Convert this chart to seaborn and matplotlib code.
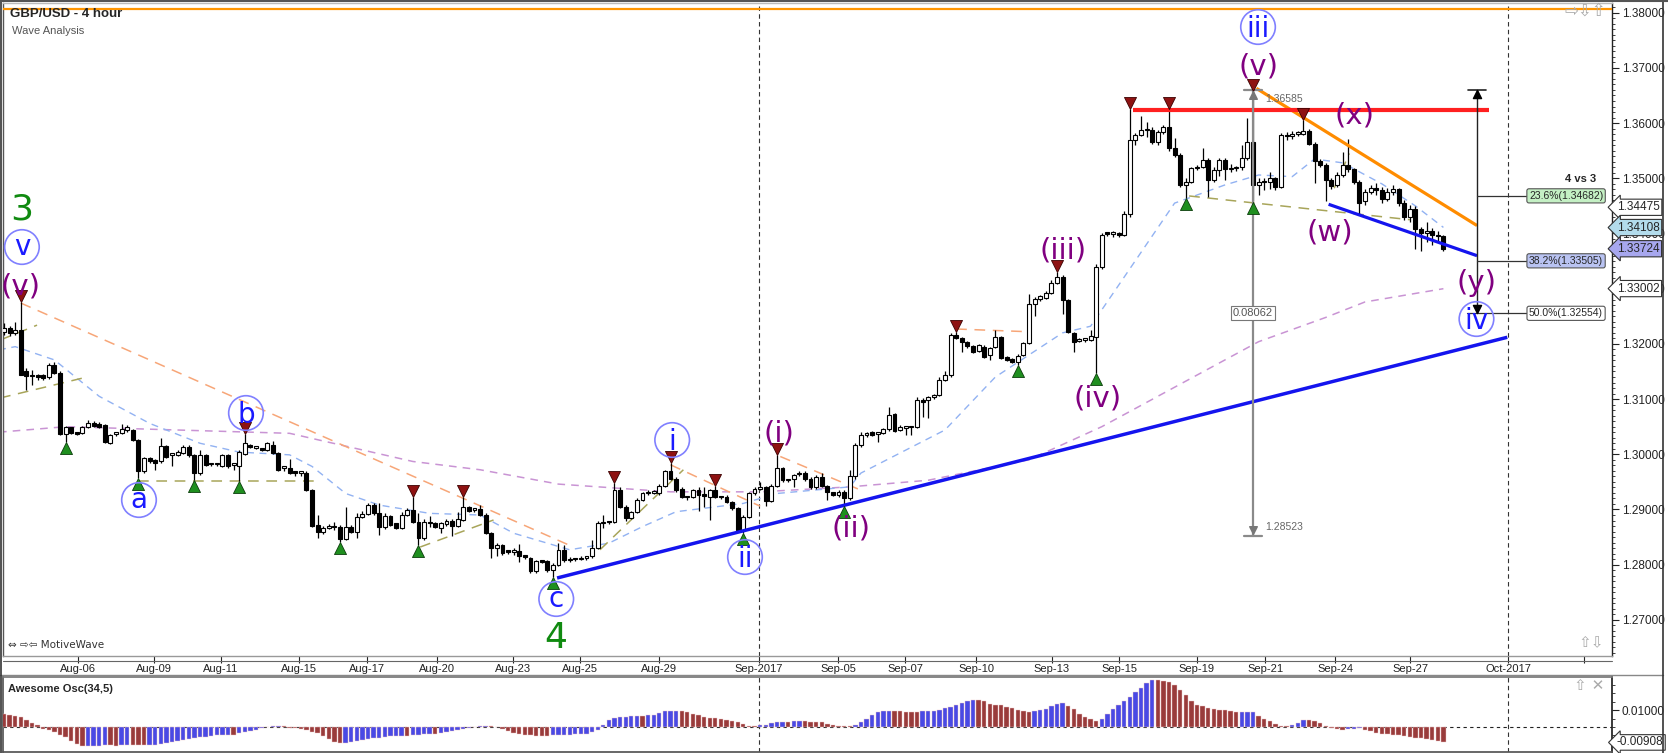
import numpy as np
import pandas as pd
import matplotlib
matplotlib.use("Agg")
import matplotlib.pyplot as plt
import seaborn as sns
from matplotlib.lines import Line2D
from matplotlib.ticker import MultipleLocator

# GBP/USD 4-hour candles, prices in pips (1e-4)
opens = [13222, 13228, 13219, 13226, 13150, 13142, 13141, 13143, 13140, 13162,
         13147, 13037, 13049, 13038, 13038, 13050, 13057, 13055, 13053, 13021,
         13037, 13038, 13044, 13044, 13026, 12969, 12993, 12990, 12987, 13015,
         12999, 12999, 13003, 13014, 12999, 12966, 12999, 12982, 12982, 12979,
         12998, 12981, 12978, 13000, 13017, 13012, 13011, 13008, 13017, 13002,
         12975, 12976, 12968, 12966, 12966, 12935, 12872, 12860, 12866, 12870,
         12868, 12847, 12869, 12860, 12887, 12892, 12908, 12893, 12869, 12888,
         12875, 12866, 12890, 12899, 12878, 12848, 12878, 12875, 12867, 12873,
         12880, 12870, 12881, 12904, 12899, 12900, 12890, 12857, 12830, 12835,
         12824, 12823, 12824, 12815, 12812, 12788, 12806, 12806, 12790, 12800,
         12827, 12808, 12811, 12810, 12812, 12815, 12830, 12875, 12878, 12877,
         12935, 12905, 12884, 12896, 12917, 12929, 12930, 12929, 12943, 12969,
         12956, 12938, 12923, 12922, 12935, 12926, 12923, 12935, 12923, 12923,
         12914, 12902, 12863, 12887, 12929, 12937, 12940, 12916, 12943, 12975,
         12953, 12956, 12964, 12967, 12955, 12941, 12959, 12943, 12932, 12926,
         12932, 12921, 12960, 13017, 13035, 13041, 13037, 13038, 13045, 13073,
         13044, 13048, 13049, 13049, 13098, 13099, 13103, 13107, 13135, 13143,
         13216, 13211, 13204, 13196, 13187, 13195, 13180, 13194, 13212, 13176,
         13172, 13168, 13180, 13201, 13273, 13281, 13284, 13292, 13311, 13322,
         13279, 13220, 13206, 13207, 13207, 13213, 13340, 13400, 13399, 13400,
         13397, 13436, 13569, 13578, 13587, 13588, 13566, 13584, 13593, 13554,
         13542, 13488, 13494, 13518, 13521, 13533, 13497, 13515, 13533, 13516,
         13518, 13520, 13536, 13566, 13488, 13494, 13494, 13500, 13485, 13578,
         13576, 13581, 13581, 13586, 13563, 13532, 13524, 13497, 13488, 13506,
         13524, 13516, 13494, 13458, 13476, 13482, 13478, 13462, 13475, 13480,
         13455, 13430, 13445, 13408, 13400, 13405, 13398, 13395]
highs = [13237, 13233, 13240, 13275, 13156, 13153, 13146, 13146, 13165, 13167,
         13150, 13052, 13050, 13040, 13052, 13062, 13060, 13058, 13055, 13037,
         13040, 13055, 13053, 13046, 13028, 12995, 12995, 12992, 13029, 13017,
         13001, 13008, 13016, 13016, 13001, 13008, 13001, 12985, 12985, 13000,
         13000, 12984, 13008, 13037, 13018, 13014, 13012, 13023, 13024, 13004,
         12978, 12991, 12970, 12970, 12969, 12937, 12890, 12870, 12873, 12878,
         12872, 12905, 12872, 12894, 12897, 12912, 12911, 12911, 12893, 12890,
         12876, 12895, 12902, 12923, 12893, 12882, 12888, 12877, 12878, 12883,
         12883, 12895, 12922, 12907, 12903, 12908, 12893, 12860, 12840, 12838,
         12826, 12830, 12837, 12817, 12814, 12808, 12808, 12808, 12803, 12839,
         12836, 12814, 12813, 12815, 12816, 12845, 12880, 12890, 12880, 12948,
         12940, 12908, 12898, 12920, 12932, 12935, 12936, 12946, 12972, 12985,
         12958, 12940, 12925, 12937, 12940, 12940, 12937, 12942, 12925, 12926,
         12916, 12904, 12890, 12932, 12940, 12950, 12942, 12946, 12998, 12977,
         12956, 12965, 12970, 12969, 12958, 12962, 12966, 12945, 12932, 12935,
         12936, 12972, 13020, 13040, 13040, 13043, 13041, 13048, 13086, 13075,
         13053, 13052, 13052, 13103, 13102, 13106, 13110, 13140, 13150, 13219,
         13222, 13213, 13206, 13198, 13200, 13198, 13195, 13225, 13214, 13178,
         13174, 13182, 13203, 13290, 13285, 13289, 13296, 13315, 13331, 13324,
         13281, 13222, 13210, 13210, 13225, 13345, 13400, 13403, 13404, 13403,
         13440, 13625, 13582, 13612, 13602, 13593, 13587, 13596, 13625, 13573,
         13545, 13500, 13520, 13524, 13554, 13536, 13520, 13536, 13536, 13525,
         13523, 13560, 13609, 13658, 13500, 13500, 13512, 13503, 13582, 13584,
         13586, 13586, 13605, 13590, 13566, 13535, 13527, 13500, 13512, 13548,
         13572, 13518, 13497, 13480, 13487, 13492, 13485, 13482, 13488, 13483,
         13460, 13452, 13450, 13412, 13420, 13410, 13404, 13398]
lows = [13216, 13215, 13216, 13143, 13117, 13126, 13135, 13134, 13136, 13145,
        13035, 13023, 13036, 13035, 13036, 13048, 13049, 13048, 13020, 13019,
        13034, 13036, 13041, 13024, 12957, 12966, 12985, 12972, 12985, 12993,
        12978, 12997, 13001, 12996, 12954, 12963, 12979, 12979, 12979, 12977,
        12976, 12972, 12952, 12998, 13012, 13010, 13006, 13006, 13000, 12970,
        12970, 12965, 12961, 12960, 12933, 12868, 12848, 12855, 12864, 12862,
        12841, 12845, 12858, 12848, 12885, 12890, 12890, 12854, 12865, 12870,
        12864, 12864, 12888, 12876, 12835, 12845, 12869, 12866, 12858, 12870,
        12852, 12868, 12879, 12895, 12896, 12888, 12855, 12813, 12815, 12818,
        12820, 12818, 12805, 12810, 12785, 12785, 12803, 12787, 12778, 12798,
        12804, 12805, 12806, 12808, 12809, 12812, 12828, 12866, 12874, 12875,
        12902, 12880, 12882, 12893, 12915, 12927, 12928, 12926, 12941, 12954,
        12932, 12920, 12918, 12920, 12898, 12905, 12881, 12920, 12919, 12911,
        12899, 12860, 12858, 12885, 12926, 12935, 12906, 12914, 12940, 12950,
        12950, 12941, 12961, 12952, 12938, 12938, 12940, 12917, 12924, 12923,
        12906, 12918, 12956, 13014, 13032, 13033, 13023, 13036, 13043, 13041,
        13042, 13035, 13035, 13047, 13068, 13065, 13100, 13105, 13132, 13140,
        13208, 13186, 13193, 13184, 13185, 13175, 13170, 13192, 13172, 13169,
        13166, 13162, 13178, 13199, 13250, 13278, 13282, 13290, 13308, 13255,
        13220, 13186, 13204, 13203, 13205, 13147, 13335, 13395, 13393, 13394,
        13395, 13430, 13560, 13576, 13575, 13563, 13560, 13580, 13550, 13538,
        13485, 13465, 13491, 13515, 13518, 13467, 13494, 13505, 13497, 13512,
        13514, 13515, 13533, 13458, 13470, 13478, 13480, 13478, 13483, 13570,
        13572, 13577, 13578, 13560, 13491, 13520, 13458, 13480, 13485, 13503,
        13512, 13490, 13436, 13452, 13472, 13470, 13455, 13458, 13470, 13450,
        13425, 13420, 13372, 13368, 13385, 13380, 13385, 13368]
closes = [13228, 13219, 13226, 13144, 13142, 13141, 13140, 13138, 13162, 13147,
          13037, 13049, 13038, 13037, 13050, 13057, 13051, 13050, 13023, 13035,
          13037, 13045, 13050, 13026, 12969, 12993, 12987, 12985, 13015, 12996,
          12999, 13005, 13014, 12999, 12966, 12999, 12981, 12982, 12982, 12998,
          12978, 12981, 13005, 13020, 13014, 13012, 13008, 13020, 13002, 12972,
          12976, 12967, 12966, 12967, 12935, 12870, 12860, 12866, 12870, 12868,
          12846, 12869, 12860, 12887, 12892, 12908, 12893, 12869, 12888, 12872,
          12866, 12890, 12899, 12878, 12848, 12878, 12875, 12869, 12875, 12880,
          12870, 12882, 12904, 12898, 12900, 12890, 12857, 12830, 12835, 12822,
          12823, 12824, 12815, 12814, 12788, 12806, 12805, 12790, 12800, 12827,
          12808, 12811, 12810, 12812, 12813, 12830, 12875, 12878, 12877, 12935,
          12905, 12884, 12896, 12917, 12929, 12930, 12931, 12943, 12969, 12956,
          12935, 12923, 12922, 12935, 12926, 12925, 12935, 12923, 12922, 12914,
          12902, 12863, 12887, 12929, 12937, 12938, 12916, 12943, 12975, 12953,
          12953, 12962, 12967, 12955, 12941, 12959, 12943, 12932, 12926, 12932,
          12921, 12960, 13017, 13035, 13038, 13035, 13038, 13045, 13071, 13043,
          13050, 13049, 13049, 13098, 13095, 13103, 13107, 13135, 13143, 13216,
          13211, 13204, 13196, 13186, 13198, 13177, 13192, 13212, 13174, 13171,
          13168, 13178, 13201, 13273, 13281, 13286, 13292, 13311, 13322, 13279,
          13222, 13204, 13207, 13207, 13214, 13340, 13397, 13399, 13400, 13398,
          13436, 13569, 13578, 13587, 13588, 13566, 13584, 13593, 13554, 13542,
          13488, 13494, 13518, 13520, 13533, 13497, 13515, 13533, 13516, 13518,
          13520, 13536, 13566, 13488, 13494, 13493, 13500, 13485, 13578, 13576,
          13581, 13582, 13586, 13563, 13532, 13524, 13497, 13486, 13506, 13524,
          13516, 13494, 13455, 13476, 13482, 13478, 13462, 13475, 13480, 13455,
          13430, 13445, 13408, 13400, 13405, 13398, 13395, 13372]

# Awesome Oscillator (34,5), units of 1e-4
ao_values = [76, 73, 65, 59, 43, 24, 12, -12, -20, -27,
             -45, -59, -80, -100, -114, -112, -110, -109, -108, -108,
             -109, -108, -107, -107, -108, -108, -107, -105, -100, -96,
             -90, -84, -78, -72, -66, -61, -56, -52, -49, -47,
             -45, -46, -38, -30, -22, -15, -8, 2, 6, 7,
             3, -3, -5, -12, -20, -29, -38, -55, -72, -88,
             -94, -92, -86, -80, -75, -70, -66, -63, -59, -55,
             -53, -51, -52, -48, -45, -43, -40, -41, -35, -28,
             -22, -15, -10, -5, 0, 6, 8, 7, 1, -12,
             -24, -35, -40, -45, -48, -51, -51, -52, -50, -48,
             -46, -45, -44, -42, -40, -30, -16, 12, 43, 53,
             57, 60, 63, 64, 62, 69, 73, 82, 92, 96,
             97, 92, 86, 78, 69, 59, 55, 53, 49, 43,
             37, 29, 18, 8, 6, 10, 12, 24, 29, 31,
             29, 37, 38, 33, 30, 29, 28, 18, 12, 8,
             6, 4, 12, 27, 47, 69, 86, 92, 96, 95,
             92, 91, 90, 88, 92, 93, 96, 102, 112, 118,
             127, 141, 155, 161, 159, 151, 135, 131, 127, 118,
             112, 102, 94, 88, 92, 98, 108, 125, 137, 141,
             125, 106, 78, 60, 47, 33, 47, 78, 106, 131,
             155, 176, 204, 229, 259, 278, 277, 273, 263, 249,
             220, 190, 151, 131, 125, 112, 106, 102, 98, 92,
             86, 87, 88, 89, 63, 49, 33, 18, 4, 3,
             12, 24, 43, 42, 37, 24, 8, -6, -12, -16,
             -12, -10, -8, -16, -24, -35, -39, -41, -45, -49,
             -55, -61, -65, -67, -71, -75, -84, -90.8]

# moving averages read as points (bar index, pips)
fast_ma_x = [-1, 2, 9, 17, 26, 35, 42, 51, 55, 61, 67, 76, 85, 91, 101, 108, 114, 120,
             132, 138, 151, 153, 168, 177, 189, 194, 200, 209, 218, 224, 230, 234, 239,
             246, 252, 257]
fast_ma_y = [13189, 13195, 13171, 13105, 13056, 13020, 13004, 12999, 12978, 12929, 12908,
             12893, 12890, 12857, 12827, 12839, 12869, 12896, 12911, 12929, 12941, 12966,
             13044, 13140, 13220, 13232, 13321, 13455, 13488, 13506, 13503, 13535, 13528,
             13490, 13450, 13411]
slow_ma_x = [-1, 11, 51, 73, 85, 99, 119, 135, 151, 165, 183, 196, 224, 236, 243, 257]
slow_ma_y = [13040, 13050, 13038, 12987, 12972, 12946, 12932, 12932, 12941, 12953, 12990,
             13050, 13204, 13248, 13276, 13300]

date_ticks = [13.2, 26.8, 38.75, 52.7, 64.8, 77.3, 90.9, 102.9, 117.0, 134.8, 148.9,
              160.9, 173.6, 187.1, 199.1, 213.0, 225.2, 237.7, 251.1, 268.6, 282.1]
date_labels = ["Aug-06", "Aug-09", "Aug-11", "Aug-15", "Aug-17", "Aug-20", "Aug-23",
               "Aug-25", "Aug-29", "Sep-2017", "Sep-05", "Sep-07", "Sep-10", "Sep-13",
               "Sep-15", "Sep-19", "Sep-21", "Sep-24", "Sep-27", "Oct-2017", ""]
price_ticks = [1.27, 1.28, 1.29, 1.30, 1.31, 1.32, 1.33, 1.34, 1.35, 1.36, 1.37, 1.38]

# pivot markers
top_marks = [3, 43, 73, 82, 109, 119, 127, 138, 170, 188, 201, 208, 223, 232]
bottom_marks = [11, 24, 34, 42, 60, 74, 98, 132, 150, 181, 195, 211, 223]

# wave labels: (text, bar, price)
purple_labels = [("(v)", 3.0, 1.33031), ("(i)", 138.4, 1.30368), ("(ii)", 151.25, 1.28647),
                 ("(iii)", 189.1, 1.33683), ("(iv)", 195.2, 1.31002), ("(v)", 223.9, 1.37034),
                 ("(x)", 241.1, 1.36129), ("(w)", 236.8, 1.34027), ("(y)", 262.9, 1.33103)]
circled_labels = [("v", 3.2, 1.33755), ("a", 24.1, 1.29172), ("b", 43.2, 1.30748),
                  ("c", 98.6, 1.27379), ("i", 119.3, 1.30259), ("ii", 132.3, 1.28139),
                  ("iii", 223.9, 1.37741), ("iv", 262.9, 1.32451)]
green_labels = [("3", 3.2, 1.34426), ("4", 98.6, 1.26672)]

fib_levels = [1.34682, 1.33505, 1.32554]
fib_names = ["23.6%(1.34682)", "38.2%(1.33505)", "50.0%(1.32554)"]
fib_fill = ["#c4f0c4", "#b9c3f2", "#ffffff"]
flag_prices = [1.34475, 1.34108, 1.33724, 1.33002]
flag_fill = ["#ffffff", "#b3dcec", "#a7a7ee", "#ffffff"]

sns.set_theme(style="white")
plt.rcParams['font.family'] = ['Liberation Sans', 'DejaVu Sans']

W, H = 1668, 753
fig = plt.figure(figsize=(W / 100, H / 100), dpi=100)
fig.patch.set_facecolor('white')


def fy(px):
    return 1 - px / H


ax = fig.add_axes([3 / W, fy(656), 1609 / W, 653 / H])
osc = fig.add_axes([3 / W, fy(752), 1609 / W, 75 / H])
x_lim = (-0.18, 287.1)

o = np.array(opens) / 1e4
h = np.array(highs) / 1e4
l = np.array(lows) / 1e4
c = np.array(closes) / 1e4
n = len(c)
idx = np.arange(n)
up = c >= o

# moving averages and helper dashed lines (behind candles)
ax.plot(slow_ma_x, np.array(slow_ma_y) / 1e4, color='#c994d4', lw=1.1, ls=(0, (5, 4)), zorder=2)
ax.plot(fast_ma_x, np.array(fast_ma_y) / 1e4, color='#92b2f2', lw=1.0, ls=(0, (5, 4)), zorder=2)
orange_dash = [([3, 101], [1.3274, 1.2835]), ([119, 135], [1.2981, 1.2906]),
               ([138.6, 153], [1.2996, 1.2935]), ([170, 183], [1.3227, 1.3222])]
for xs, ys in orange_dash:
    ax.plot(xs, ys, color='#f7a678', lw=1.1, ls=(0, (7, 5)), zorder=2)
olive_dash = [([-0.7, 5.9], [1.3207, 1.3234]), ([-0.7, 14], [1.3102, 1.3138]),
              ([24, 56.4], [1.2952, 1.2952]), ([74.3, 87.4], [1.2832, 1.2881]),
              ([106.4, 121.3], [1.2827, 1.2972]), ([211.6, 251], [1.3468, 1.3425]),
              ([237.5, 240.2], [1.3482, 1.3545])]
for xs, ys in olive_dash:
    ax.plot(xs, ys, color='#a8a55a', lw=1.1, ls=(0, (7, 5)), zorder=2)

# candles
ax.vlines(idx, l, h, color='black', lw=0.9, zorder=3)
body_lo = np.minimum(o, c)
body_h = np.maximum(np.abs(c - o), 0.0003)
ax.bar(idx[up], body_h[up], bottom=body_lo[up], width=0.7, color='white',
       edgecolor='black', linewidth=0.8, zorder=4)
ax.bar(idx[~up], body_h[~up], bottom=body_lo[~up], width=0.7, color='black',
       edgecolor='black', linewidth=0.8, zorder=4)

# pivot triangles
ax.scatter(top_marks, h[top_marks] + 0.0011, marker='v', s=75, color='#8e1212',
           edgecolor='#3a0000', linewidth=0.6, zorder=6)
ax.scatter(bottom_marks, l[bottom_marks] - 0.0011, marker='^', s=75, color='#1f8f1f',
           edgecolor='#0b3d0b', linewidth=0.6, zorder=6)

# trendlines
ax.axhline(1.3806, color='#ff9500', lw=1.6, zorder=5)
ax.plot([98.75, 268.4], [1.27759, 1.32120], color='#1414ee', lw=2.5, zorder=5,
        solid_capstyle='butt')
ax.plot([236.5, 263.0], [1.34529, 1.33598], color='#1414ee', lw=2.3, zorder=5,
        solid_capstyle='butt')
ax.plot([223.6, 263.0], [1.3663, 1.34144], color='#ff8c00', lw=2.3, zorder=5,
        solid_capstyle='butt')
ax.plot([201.5, 265.2], [1.3623, 1.3623], color='#ff2020', lw=3.0, zorder=5,
        solid_capstyle='butt')

# price range measure
ax.plot([223, 223], [1.28523, 1.36600], color='#8a8a8a', lw=1.6, zorder=5)
ax.plot([221.4, 224.6], [1.36600, 1.36600], color='#8a8a8a', lw=1.6, zorder=5)
ax.plot([221.4, 224.6], [1.28523, 1.28523], color='#8a8a8a', lw=1.6, zorder=5)
ax.scatter([223], [1.3651], marker='^', s=30, color='#777777', zorder=6)
ax.scatter([223], [1.2862], marker='v', s=30, color='#777777', zorder=6)
ax.text(225.2, 1.36437, "1.36585", fontsize=7.5, color='#666666', va='center', zorder=7)
ax.text(225.2, 1.28683, "1.28523", fontsize=7.5, color='#666666', va='center', zorder=7)
ax.text(223, 1.3256, "0.08062", fontsize=8, color='#555555', ha='center', va='center',
        zorder=7, bbox=dict(boxstyle='square,pad=0.2', fc='white', ec='#777777', lw=0.8))

# fibonacci retracement tool
fib_x = 263.0
ax.plot([fib_x, fib_x], [1.32554, 1.36600], color='#222222', lw=1.0, zorder=5)
ax.plot([fib_x - 1.6, fib_x + 1.6], [1.36600, 1.36600], color='#222222', lw=1.2, zorder=5)
ax.scatter([fib_x], [1.3652], marker='^', s=34, color='black', zorder=6)
ax.scatter([fib_x], [1.3263], marker='v', s=34, color='black', zorder=6)
for lvl, name, fc, x0 in zip(fib_levels, fib_names, fib_fill, [fib_x, fib_x, 261.25]):
    ax.plot([x0, 272.3], [lvl, lvl], color='#333333', lw=0.9, zorder=5)
    ax.text(278.9, lvl, name, fontsize=7.5, ha='center', va='center', zorder=7,
            bbox=dict(boxstyle='round,pad=0.2', fc=fc, ec='#555555', lw=0.8))
ax.text(284.3, 1.34987, "4 vs 3", fontsize=8, fontweight='bold', ha='right', va='center', zorder=7)

# time separators
for xv in [134.8, 268.6]:
    ax.axvline(xv, color='#333333', lw=0.8, ls=(0, (4, 3)), zorder=1)
    osc.axvline(xv, color='#333333', lw=0.8, ls=(0, (4, 3)), zorder=1)

# wave labels
for txt, xv, yv in purple_labels:
    ax.text(xv, yv, txt, color='#800080', fontsize=21, ha='center', va='center',
            family=['DejaVu Sans'], zorder=8)
for txt, xv, yv in green_labels:
    ax.text(xv, yv, txt, color='#108a10', fontsize=26, ha='center', va='center',
            family=['DejaVu Sans'], zorder=8)
cx = [v[1] for v in circled_labels]
cy = [v[2] for v in circled_labels]
ax.scatter(cx, cy, s=620, facecolors='none', edgecolors='#8080ff', linewidths=1.2, zorder=8)
for txt, xv, yv in circled_labels:
    off = 5.5 if txt in ("a", "c", "v") else 7.0
    ax.annotate(txt, xy=(xv, yv), xytext=(0, -off), textcoords='offset points',
                color='#1a1aff', fontsize=20, ha='center', va='baseline',
                family=['DejaVu Sans'], zorder=9)

ax.set_xlim(*x_lim)
ax.set_ylim(1.263460, 1.381757)
ax.yaxis.tick_right()
ax.set_yticks(price_ticks)
ax.set_yticklabels([f"{p:.5f}" for p in price_ticks])
ax.yaxis.set_minor_locator(MultipleLocator(0.001))
ax.set_xticks(date_ticks)
ax.set_xticklabels(date_labels)
ax.tick_params(axis='y', which='major', right=True, left=False, length=5, width=0.8,
               direction='out', labelsize=8.5, pad=2, colors='#222222')
ax.tick_params(axis='y', which='minor', right=True, left=False, length=2.5, width=0.6,
               direction='out', colors='#222222')
ax.tick_params(axis='x', which='major', bottom=True, top=False, length=5, width=0.8,
               direction='out', labelsize=8, pad=1, colors='#222222')
for side, col in [('top', '#bbbbbb'), ('left', '#555555'), ('right', '#222222'), ('bottom', '#999999')]:
    ax.spines[side].set_color(col)
    ax.spines[side].set_linewidth(1.0)
ax.set_xlabel("")
ax.set_ylabel("")

# right-hand price flags, drawn over the tick labels like the platform does
for p, fc in zip(flag_prices, flag_fill):
    ax.text(1.003, p, f"{p:.5f}", transform=ax.get_yaxis_transform(), fontsize=8.5,
            ha='left', va='center', clip_on=False, zorder=10,
            bbox=dict(boxstyle='larrow,pad=0.18', fc=fc, ec='#333333', lw=0.8))

# Awesome oscillator panel
ao_df = pd.DataFrame({'bar': idx, 'value': np.array(ao_values) / 1e4})
ao_df['dir'] = np.where(ao_df['value'].diff().fillna(-1) > 0, 'up', 'down')
sns.barplot(data=ao_df, x='bar', y='value', hue='dir', hue_order=['up', 'down'],
            palette={'up': '#2f2fff', 'down': '#a82c2c'}, native_scale=True, dodge=False,
            width=0.78, errorbar=None, legend=False, ax=osc, edgecolor='#f0c8c8',
            linewidth=0.3, zorder=3)
osc.axhline(0, color='#222222', lw=0.8, ls=(0, (3, 3)), zorder=2)
osc.set_xlim(*x_lim)
osc.set_ylim(-0.014706, 0.029412)
osc.yaxis.tick_right()
osc.set_yticks([0.01])
osc.set_yticklabels(["0.01000"])
osc.yaxis.set_minor_locator(MultipleLocator(0.005))
osc.set_xticks([])
osc.tick_params(axis='y', which='major', right=True, left=False, length=5, width=0.8,
                labelsize=8.5, pad=2, colors='#222222')
osc.tick_params(axis='y', which='minor', right=True, left=False, length=2.5, width=0.6,
                colors='#222222')
osc.set_xlabel("")
osc.set_ylabel("")
for side, col in [('top', '#777777'), ('left', '#555555'), ('right', '#222222'), ('bottom', '#555555')]:
    osc.spines[side].set_color(col)
osc.text(1.003, ao_values[-1] / 1e4, f"{ao_values[-1] / 1e4:.5f}", transform=osc.get_yaxis_transform(),
         fontsize=8.5, ha='left', va='center', clip_on=False, zorder=10,
         bbox=dict(boxstyle='larrow,pad=0.15', fc='white', ec='#333333', lw=0.8))

# captions and window chrome
fig.text(10 / W, fy(14), "GBP/USD - 4 hour", fontsize=9.5, fontweight='bold', va='center')
fig.text(12 / W, fy(31), "Wave Analysis", fontsize=8, color='#555555', va='center')
fig.text(8 / W, fy(645), "⇔ ⇨⇦ MotiveWave", fontsize=7.5, color='#333333', va='center',
         family=['DejaVu Sans'])
fig.text(8 / W, fy(689), "Awesome Osc(34,5)", fontsize=8, fontweight='bold', va='center')
fig.text(1606 / W, fy(11), "⇨⇩⇧", fontsize=12, color='#aaaaaa', ha='right', va='center',
         family=['DejaVu Sans'])
fig.text(1604 / W, fy(643), "⇧⇩", fontsize=11, color='#aaaaaa', ha='right', va='center',
         family=['DejaVu Sans'])
fig.text(1604 / W, fy(686), "⇧ ✕", fontsize=11, color='#aaaaaa', ha='right', va='center',
         family=['DejaVu Sans'])
fig.add_artist(Line2D([3 / W, 1612 / W], [fy(661), fy(661)], color='#666666', lw=0.8))
fig.add_artist(Line2D([0, 1663 / W], [fy(675), fy(675)], color='#888888', lw=1.0))
fig.add_artist(Line2D([1663 / W, 1663 / W], [0, 1], color='#333333', lw=1.2))
fig.add_artist(Line2D([1 / W, 1 / W], [0, 1], color='#333333', lw=1.2))
fig.add_artist(Line2D([0, 1], [1 - 1 / H, 1 - 1 / H], color='#555555', lw=1.5))

fig.savefig("out.png", dpi=100)
